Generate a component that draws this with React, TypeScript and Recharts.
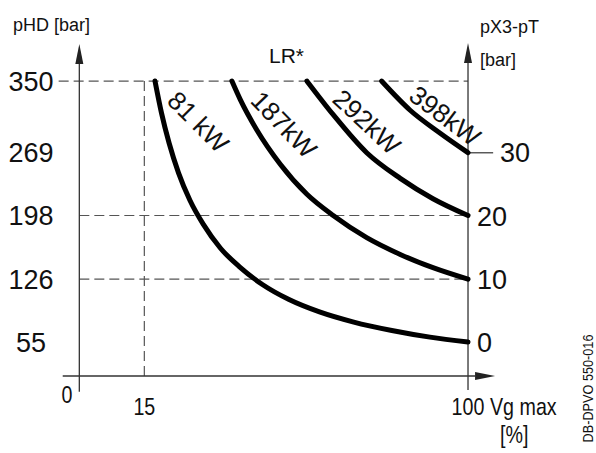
import { LineChart, Line, XAxis, YAxis, ReferenceLine, ReferenceDot } from 'recharts';

// tick labels
const leftTicks = [55, 126, 198, 269, 350];
const rightTicks = [0, 10, 20, 30];
const xTicks = [0, 15, 100];

// curves: Vg max [%] vs pHD [bar]
const v81 = [17.8, 19.5, 21.5, 24, 27, 30.5, 35, 40, 46, 53, 61, 70, 80, 90, 100];
const p81 = [350, 314, 280, 246, 215, 188, 161, 140, 120, 103, 89, 77.5, 68, 60.5, 55];
const v187 = [38, 40.2, 44.5, 50.7, 57.7, 64.6, 73.4, 82.2, 90.8, 100];
const p187 = [350, 329, 295, 256, 222, 198, 173, 154, 139, 126];
const v292 = [57.7, 64.6, 73.4, 82.2, 90.8, 100];
const p292 = [350, 312, 269, 240, 217, 198];
const v398 = [77.3, 84.8, 92.7, 100];
const p398 = [350, 317, 291, 269];

const curveNames = ['81 kW', '187kW', '292kW', '398kW'];
const labelV = [29.2, 51.7, 73.5, 94];
const labelP = [304, 301, 304, 311];
const labelAngle = [45, 46, 43, 37];

const toRows = (v: number[], p: number[]) => v.map((x, i) => ({ v: x, p: p[i] }));
const curves = [toRows(v81, p81), toRows(v187, p187), toRows(v292, p292), toRows(v398, p398)];

const FONT = 'Liberation Sans, Arial, Helvetica, sans-serif';
const AXIS = '#333';
const DASH = '#555';
const INK = '#111';

// the drawing uses a condensed face; squeeze the regular one
const Narrow = ({ x, y, size, anchor = 'start', rotate = 0, children }: any) => (
  <text
    transform={`translate(${x} ${y}) rotate(${rotate}) scale(0.82 1)`}
    textAnchor={anchor}
    style={{ fontFamily: FONT, fontSize: size }}
    fill={INK}
  >
    {children}
  </text>
);

const arrowShape = (props: any) => {
  const { x1, y1, x2, y2 } = props;
  const dx = x2 - x1;
  const dy = y2 - y1;
  const len = Math.sqrt(dx * dx + dy * dy) || 1;
  const ux = dx / len;
  const uy = dy / len;
  const bx = x2 - ux * 20;
  const by = y2 - uy * 20;
  const px = -uy * 4;
  const py = ux * 4;
  return (
    <g>
      <line x1={x1} y1={y1} x2={bx} y2={by} stroke={AXIS} strokeWidth={1.3} />
      <polygon points={`${x2},${y2} ${bx + px},${by + py} ${bx - px},${by - py}`} fill="#222" />
    </g>
  );
};

const LeftTick = (props: any) => (
  <text x={31} y={props.y + 9.7} textAnchor="middle" style={{ fontFamily: FONT, fontSize: 27 }} fill={INK}>
    {props.payload.value}
  </text>
);

const RightTick = (props: any) => (
  <text x={props.payload.value === 30 ? 500 : 477} y={props.y + 9.7} style={{ fontFamily: FONT, fontSize: 27 }} fill={INK}>
    {props.payload.value}
  </text>
);

const XTick = (props: any) => {
  const origin = props.payload.value === 0;
  return (
    <Narrow x={origin ? 67 : props.x} y={origin ? 403 : 415} size={24} anchor="middle">
      {props.payload.value}
    </Narrow>
  );
};

const curveLabel = (i: number) => (props: any) => (
  <text
    x={props.cx}
    y={props.cy}
    transform={`rotate(${labelAngle[i]} ${props.cx} ${props.cy})`}
    textAnchor="middle"
    dy="0.36em"
    style={{ fontFamily: FONT, fontSize: 26 }}
    fill={INK}
  >
    {curveNames[i]}
  </text>
);

export default function App() {
  return (
    <div style={{ position: 'fixed', left: 0, top: 0, width: 596, height: 453, background: '#fff', fontFamily: FONT }}>
      <LineChart width={596} height={453} margin={{ top: 40, right: 40, bottom: 18, left: 8 }}>
        <XAxis
          type="number"
          dataKey="v"
          domain={[-7.67, 107.35]}
          ticks={xTicks}
          interval={0}
          allowDataOverflow
          axisLine={false}
          tickLine={false}
          height={40}
          tick={XTick}
        />
        <YAxis
          yAxisId="l"
          type="number"
          domain={[-4.9, 396.4]}
          ticks={leftTicks}
          interval={0}
          allowDataOverflow
          axisLine={false}
          tickLine={false}
          width={50}
          tick={LeftTick}
        />
        <YAxis
          yAxisId="r"
          orientation="right"
          type="number"
          domain={[-8.4, 47.88]}
          ticks={rightTicks}
          interval={0}
          allowDataOverflow
          axisLine={false}
          tickLine={false}
          width={60}
          tick={RightTick}
        />

        {/* dashed guides */}
        <ReferenceLine yAxisId="l" segment={[{ x: -7.5, y: 350 }, { x: 100, y: 350 }]} stroke={DASH} strokeWidth={1.2} strokeDasharray="10 5" ifOverflow="visible" />
        <ReferenceLine yAxisId="l" segment={[{ x: -2.07, y: 198 }, { x: 100, y: 198 }]} stroke={DASH} strokeWidth={1.2} strokeDasharray="10 5" ifOverflow="visible" />
        <ReferenceLine yAxisId="l" segment={[{ x: -2.07, y: 126 }, { x: 100, y: 126 }]} stroke={DASH} strokeWidth={1.2} strokeDasharray="10 5" ifOverflow="visible" />
        <ReferenceLine yAxisId="l" segment={[{ x: 15, y: 16.6 }, { x: 15, y: 350 }]} stroke={DASH} strokeWidth={1.2} strokeDasharray="10 5" ifOverflow="visible" />
        <ReferenceLine yAxisId="l" segment={[{ x: 100, y: 268.9 }, { x: 106.6, y: 268.9 }]} stroke={AXIS} strokeWidth={1.2} ifOverflow="visible" />

        {/* axes with arrows */}
        <ReferenceLine yAxisId="l" segment={[{ x: -2.07, y: -1.2 }, { x: -2.07, y: 391.8 }]} shape={arrowShape} ifOverflow="visible" />
        <ReferenceLine yAxisId="l" segment={[{ x: -6.43, y: 16.6 }, { x: 107.1, y: 16.6 }]} shape={arrowShape} ifOverflow="visible" />
        <ReferenceLine yAxisId="l" segment={[{ x: 100, y: 0.7 }, { x: 100, y: 393 }]} shape={arrowShape} ifOverflow="visible" />

        {curves.map((rows, i) => (
          <Line
            key={curveNames[i]}
            yAxisId="l"
            data={rows}
            dataKey="p"
            type="monotone"
            stroke="#000"
            strokeWidth={5}
            strokeLinecap="round"
            dot={false}
            activeDot={false}
            isAnimationActive={false}
          />
        ))}

        {curveNames.map((name, i) => (
          <ReferenceDot key={name} yAxisId="l" x={labelV[i]} y={labelP[i]} r={0} shape={curveLabel(i)} ifOverflow="visible" />
        ))}
      </LineChart>

      <svg width={596} height={453} style={{ position: 'absolute', left: 0, top: 0, pointerEvents: 'none' }}>
        <text x={13} y={31} style={{ fontFamily: FONT, fontSize: 18 }} fill={INK}>pHD [bar]</text>
        <text x={286.5} y={63} textAnchor="middle" style={{ fontFamily: FONT, fontSize: 21 }} fill={INK}>LR*</text>
        <text x={480} y={33} style={{ fontFamily: FONT, fontSize: 18 }} fill={INK}>pX3-pT</text>
        <text x={480} y={66} style={{ fontFamily: FONT, fontSize: 18 }} fill={INK}>[bar]</text>
        <Narrow x={490} y={415} size={24}>Vg max</Narrow>
        <Narrow x={500} y={443} size={24}>[%]</Narrow>
        <Narrow x={593} y={388.5} size={15.5} anchor="middle" rotate={-90}>DB-DPVO 550-016</Narrow>
      </svg>
    </div>
  );
}
